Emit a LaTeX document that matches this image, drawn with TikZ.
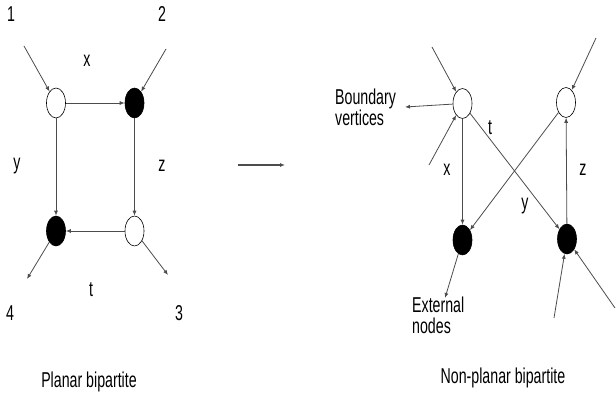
\documentclass[tikz,border=0pt]{standalone}
\usepackage{fontspec}
\setmainfont{Liberation Sans}[FakeStretch=0.66]
\usepackage{xcolor}
\usetikzlibrary{shapes.geometric}
\usetikzlibrary{arrows.meta}

\tikzset{
	vert/.style={ellipse,draw=black,line width=0.6pt,minimum width=19pt,minimum height=30pt,inner sep=0pt},
	whitev/.style={vert,fill=white},
	blackv/.style={vert,fill=black},
	edge/.style={draw=black!70,line width=0.8pt,-{Latex[length=5pt,width=4pt]}},
	lab/.style={font=\fontsize{21.5pt}{21pt}\selectfont,inner sep=0pt}
}

\begin{document}
\begin{tikzpicture}[x=1pt,y=-1pt]
	\useasboundingbox (0,0) rectangle (616,398);

	% (planar bipartite)
	\node[whitev] (wa) at (56,103) {};
	\node[blackv] (ba) at (134.5,103) {};
	\node[blackv] (bb) at (56,231) {};
	\node[whitev] (wb) at (134.5,231) {};
	\coordinate (in1) at (24,46);
	\coordinate (in2) at (166,49);
	\coordinate (out4) at (27,279);
	\coordinate (out3) at (168,275);
	\draw[edge] (in1) -- (wa);
	\draw[edge] (in2) -- (ba);
	\draw[edge] (wa) -- (ba);
	\draw[edge] (wa) -- (bb);
	\draw[edge] (ba) -- (wb);
	\draw[edge] (wb) -- (bb);
	\draw[edge] (bb) -- (out4);
	\draw[edge] (wb) -- (out3);
	\node[lab] (n1) at (11,14) {1};
	\node[lab] (n2) at (162,14) {2};
	\node[lab] (n3) at (179,313) {3};
	\node[lab] (n4) at (10,313) {4};
	\node[lab] (lx) at (87,61) {x};
	\node[lab] (ly) at (17,166) {y};
	\node[lab] (lz) at (162,166) {z};
	\node[lab] (lt) at (91,290) {t};
	\node[lab] (pl) at (89,382) {Planar bipartite};

	% (map)
	\coordinate (ma) at (238,165);
	\coordinate (mb) at (285,165);
	\draw[edge,line width=1.2pt] (ma) -- (mb);

	% (non-planar bipartite)
	\node[whitev] (wc) at (462.5,103.5) {};
	\node[whitev] (wd) at (566,102.5) {};
	\node[blackv] (bc) at (462.5,240) {};
	\node[blackv] (bd) at (567,239) {};
	\coordinate (in5) at (432,47);
	\coordinate (in6) at (429,165);
	\coordinate (in7) at (596,38);
	\coordinate (in8) at (554,318);
	\coordinate (in9) at (615,308);
	\coordinate (bv) at (405,107);
	\coordinate (en) at (445,298);
	\draw[edge] (in5) -- (wc);
	\draw[edge] (in6) -- (wc);
	\draw[edge] (in7) -- (wd);
	\draw[edge] (in8) -- (bd);
	\draw[edge] (in9) -- (bd);
	\draw[edge] (wc) -- (bv);
	\draw[edge] (bc) -- (en);
	\draw[edge] (wc) -- (bc);
	\draw[edge] (wc) -- (bd);
	\draw[edge] (wd) -- (bc);
	\draw[edge] (bd) -- (wd);
	\node[lab] (rx) at (447,170) {x};
	\node[lab] (rt) at (490,128) {t};
	\node[lab] (ry) at (525,206) {y};
	\node[lab] (rz) at (583,170) {z};
	\node[lab,align=left,anchor=west] (bvl) at (335,107) {Boundary\\vertices};
	\node[lab,align=left,anchor=west] (enl) at (412,315) {External\\nodes};
	\node[lab] (npl) at (503,378) {Non-planar bipartite};
\end{tikzpicture}
\end{document}
